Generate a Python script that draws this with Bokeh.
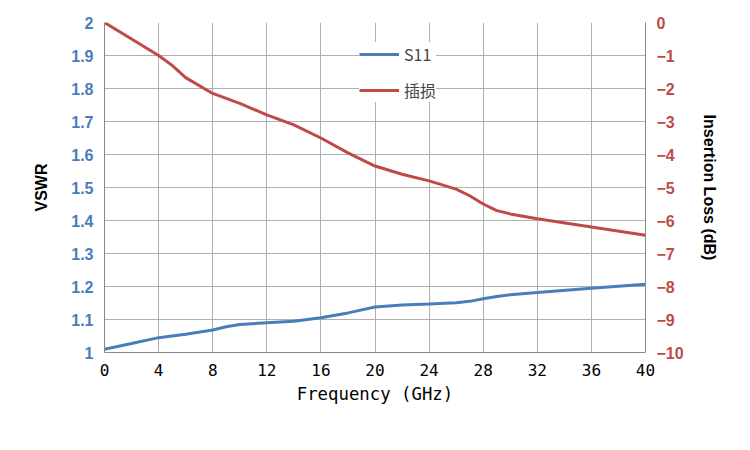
from bokeh.plotting import figure
from bokeh.models import LinearAxis, Range1d, Legend, LegendItem, FixedTicker
from bokeh.embed import file_html
from bokeh.resources import INLINE

freq_s11 = [0, 2, 4, 6, 8, 9, 10, 12, 14, 16, 18, 20, 22, 24, 26, 27, 28, 29, 30, 32, 36, 40]
s11 = [1.01, 1.027, 1.045, 1.055, 1.068, 1.078, 1.085, 1.09, 1.095, 1.105, 1.12, 1.138, 1.144, 1.147, 1.151, 1.155, 1.163, 1.17, 1.175, 1.182, 1.195, 1.207]
freq_il = [0, 2, 4, 5, 6, 8, 10, 12, 14, 16, 18, 20, 22, 24, 26, 27, 28, 29, 30, 32, 36, 40]
il = [0, -0.5, -1.0, -1.3, -1.67, -2.15, -2.45, -2.8, -3.1, -3.5, -3.95, -4.35, -4.6, -4.8, -5.05, -5.25, -5.5, -5.7, -5.8, -5.95, -6.2, -6.45]

BLUE = "#4A7EBB"
RED = "#BE4B48"

p = figure(frame_width=541, frame_height=330, x_range=Range1d(0, 40), y_range=Range1d(1, 2),
           output_backend="svg", toolbar_location=None,
           min_border_left=104, min_border_right=89, min_border_top=22, min_border_bottom=82)
p.outline_line_color = None
p.extra_y_ranges = {"il": Range1d(-10, 0)}

l1 = p.line(freq_s11, s11, line_color=BLUE, line_width=3)
l2 = p.line(freq_il, il, line_color=RED, line_width=3, y_range_name="il")

p.xaxis.ticker = FixedTicker(ticks=list(range(0, 41, 4)))
p.yaxis.ticker = FixedTicker(ticks=[1 + i / 10 for i in range(11)])
p.xaxis.axis_label = "Frequency (GHz)"
p.xaxis.axis_label_text_font = "DejaVu Sans Mono"
p.xaxis.axis_label_text_font_style = "normal"
p.xaxis.axis_label_text_font_size = "13pt"
p.xaxis.axis_label_text_color = "black"
p.xaxis.major_label_text_font = "DejaVu Sans Mono"
p.xaxis.major_label_text_font_size = "12pt"
p.xaxis.major_label_text_color = "black"
p.yaxis.axis_label = "VSWR"
p.yaxis.axis_label_text_font_style = "bold"
p.yaxis.axis_label_text_font_size = "12pt"
p.yaxis.axis_label_text_color = "black"
p.yaxis.axis_label_standoff = 18
p.yaxis.major_label_text_color = BLUE
p.yaxis.major_label_text_font_style = "bold"
p.yaxis.major_label_text_font_size = "12pt"

ra = LinearAxis(y_range_name="il", ticker=FixedTicker(ticks=list(range(-10, 1))),
                axis_label="Insertion Loss (dB)")
ra.axis_label_text_font_style = "bold"
ra.axis_label_text_font_size = "12pt"
ra.axis_label_text_color = "black"
ra.axis_label_standoff = 14
ra.major_label_text_color = RED
ra.major_label_text_font_style = "bold"
ra.major_label_text_font_size = "12pt"
p.add_layout(ra, "right")

for ax in [p.xaxis[0], p.yaxis[0], ra]:
    ax.major_tick_line_color = None
    ax.minor_tick_line_color = None
    ax.axis_line_color = "#888888"

p.xgrid.ticker = FixedTicker(ticks=list(range(0, 41, 4)))
p.grid.grid_line_color = "#B0B0B0"
p.grid.grid_line_alpha = 1

legend = Legend(items=[LegendItem(label="S11", renderers=[l1]), LegendItem(label="插损", renderers=[l2])],
                location=(255, 250))
legend.label_text_font = "Noto Sans CJK SC"
legend.label_text_font_size = "12pt"
legend.border_line_color = None
legend.background_fill_alpha = 1
legend.glyph_width = 40
legend.padding = 10
legend.spacing = 12
p.add_layout(legend, "center")

open("out.html", "w").write(file_html(p, INLINE))
